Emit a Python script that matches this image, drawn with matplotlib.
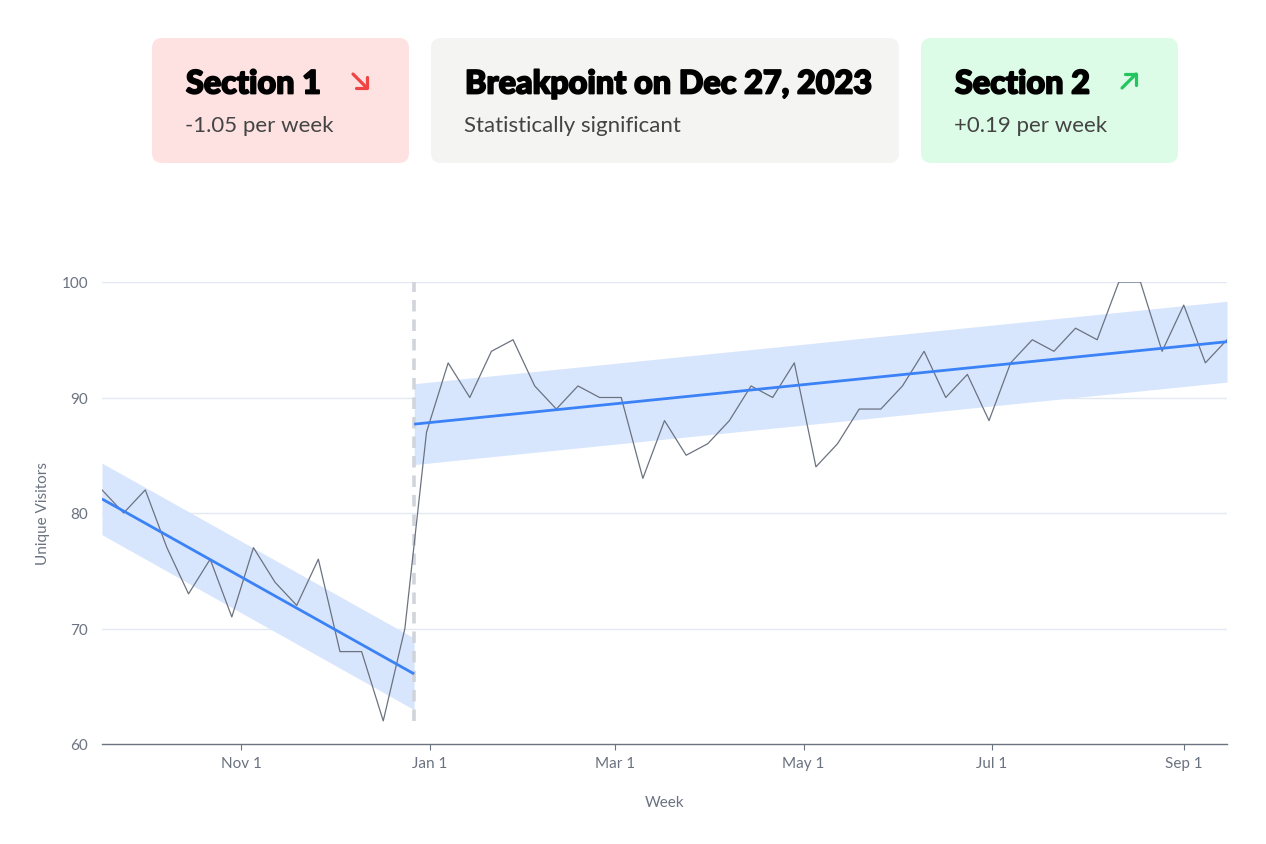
import matplotlib

matplotlib.use("Agg")
import matplotlib.dates as mdates
import matplotlib.patheffects as pe
import matplotlib.pyplot as plt
import numpy as np
import pandas as pd
from matplotlib.lines import Line2D
from matplotlib.patches import FancyBboxPatch

W, H = 1266, 845

# weekly unique visitors, starting Sun Sep 17, 2023
weeks = pd.date_range("2023-09-17", periods=53, freq="7D")
visitors = [
    82, 80, 82, 77, 73, 76, 71, 77, 74, 72, 76, 68, 68, 62, 70,
    87, 93, 90, 94, 95, 91, 89, 91, 90, 90, 83, 88, 85, 86, 88,
    91, 90, 93, 84, 86, 89, 89, 91, 94, 90, 92, 88, 93, 95, 94,
    96, 95, 100, 100, 94, 98, 93, 95,
]
breakpoint_date = pd.Timestamp("2023-12-27")
band_half = [3.1, 3.5]  # half-width of shaded band per section

tick_dates = ["2023-11-01", "2024-01-01", "2024-03-01", "2024-05-01", "2024-07-01", "2024-09-01"]
tick_labels = ["Nov 1", "Jan 1", "Mar 1", "May 1", "Jul 1", "Sep 1"]
y_ticks = [60, 70, 80, 90, 100]

cards = [
    # (x0, x1, colour, title, subtitle, arrow direction, arrow colour)
    (152, 409, "#fee2e2", "Section 1", "-1.05 per week", "down", "#ef4444"),
    (431, 899, "#f4f4f3", "Breakpoint on Dec 27, 2023", "Statistically significant", None, None),
    (921, 1178, "#dcfce7", "Section 2", "+0.19 per week", "up", "#22c55e"),
]

GRAY = "#6b7280"
BLUE = "#3b82f6"

plt.rcParams["font.family"] = ["Lato", "DejaVu Sans"]

fig = plt.figure(figsize=(W / 100, H / 100), dpi=100)
fig.patch.set_facecolor("white")


def fx(x):
    return x / W


def fy(y):
    return 1 - y / H


def arrow_icon(cx, cy, direction, colour):
    # small chevron-headed diagonal arrow, drawn in figure pixels
    s = 7
    if direction == "down":
        tail, tip = (cx - s, cy - s), (cx + s, cy + s)
        arms = [(tip[0] - 11, tip[1]), (tip[0], tip[1] - 11)]
    else:
        tail, tip = (cx - s, cy + s), (cx + s, cy - s)
        arms = [(tip[0] - 11, tip[1]), (tip[0], tip[1] + 11)]
    kw = dict(transform=fig.transFigure, color=colour, lw=2.3,
              solid_capstyle="round", solid_joinstyle="round")
    fig.add_artist(Line2D([fx(tail[0]), fx(tip[0])], [fy(tail[1]), fy(tip[1])], **kw))
    fig.add_artist(Line2D([fx(arms[0][0]), fx(tip[0]), fx(arms[1][0])],
                          [fy(arms[0][1]), fy(tip[1]), fy(arms[1][1])], **kw))


ax = fig.add_axes([fx(102), fy(745), (1227 - 102) / W, (745 - 283) / H])

dnum = mdates.date2num(weeks)
vals = np.array(visitors, dtype=float)
bp = mdates.date2num(breakpoint_date)

segments = [
    (dnum < bp, dnum[0], bp),
    (dnum > bp, bp, dnum[-1]),
]
for (mask, x0, x1), half in zip(segments, band_half):
    slope, icpt = np.polyfit(dnum[mask], vals[mask], 1)
    xs = np.array([x0, x1])
    ys = slope * xs + icpt
    ax.fill_between(xs, ys - half, ys + half, color="#d8e6fd", lw=0, zorder=1)
    ax.plot(xs, ys, color=BLUE, lw=2, zorder=4, solid_capstyle="butt")

ax.plot([bp, bp], [min(visitors), max(visitors)], color="#d1d5db", lw=2.6,
        dashes=(3.2, 2.2), zorder=2)
ax.plot(dnum, vals, color=GRAY, lw=0.9, zorder=3)

ax.set_xlim(dnum[0], dnum[-1])
ax.set_ylim(60, 100)
ax.set_yticks(y_ticks)
ax.set_xticks(mdates.date2num(pd.to_datetime(tick_dates)))
ax.set_xticklabels(tick_labels)

for y in y_ticks[1:]:
    ax.axhline(y, color="#e2e8f4", lw=1, zorder=0)

for s in ["top", "right", "left"]:
    ax.spines[s].set_visible(False)
ax.spines["bottom"].set_color(GRAY)
ax.spines["bottom"].set_linewidth(1)

ax.tick_params(axis="y", length=0, pad=10, labelsize=11, labelcolor=GRAY)
ax.tick_params(axis="x", length=4, width=0.8, color=GRAY, pad=5, labelsize=11,
               labelcolor=GRAY)
ax.set_xlabel("Week", color=GRAY, fontsize=11, labelpad=18)
ax.set_ylabel("Unique Visitors", color=GRAY, fontsize=11, labelpad=8)

# summary cards
heavy = [pe.withStroke(linewidth=1.3, foreground="black")]
for x0, x1, colour, title, sub, arrow, acol in cards:
    box = FancyBboxPatch((fx(x0), fy(164)), fx(x1 - x0), (164 - 39) / H,
                         boxstyle="round,pad=0,rounding_size=0.008",
                         transform=fig.transFigure, fc=colour, ec="none",
                         mutation_aspect=W / H)
    fig.add_artist(box)
    fig.text(fx(x0 + 34), fy(85), title, fontsize=23.3, fontweight="black",
             color="black", va="center", ha="left", path_effects=heavy)
    fig.text(fx(x0 + 33), fy(126), sub, fontsize=16, color="#444444",
             va="center", ha="left")
    if arrow:
        arrow_icon(x0 + 208, 82, arrow, acol)

fig.savefig("out.png", dpi=100)
